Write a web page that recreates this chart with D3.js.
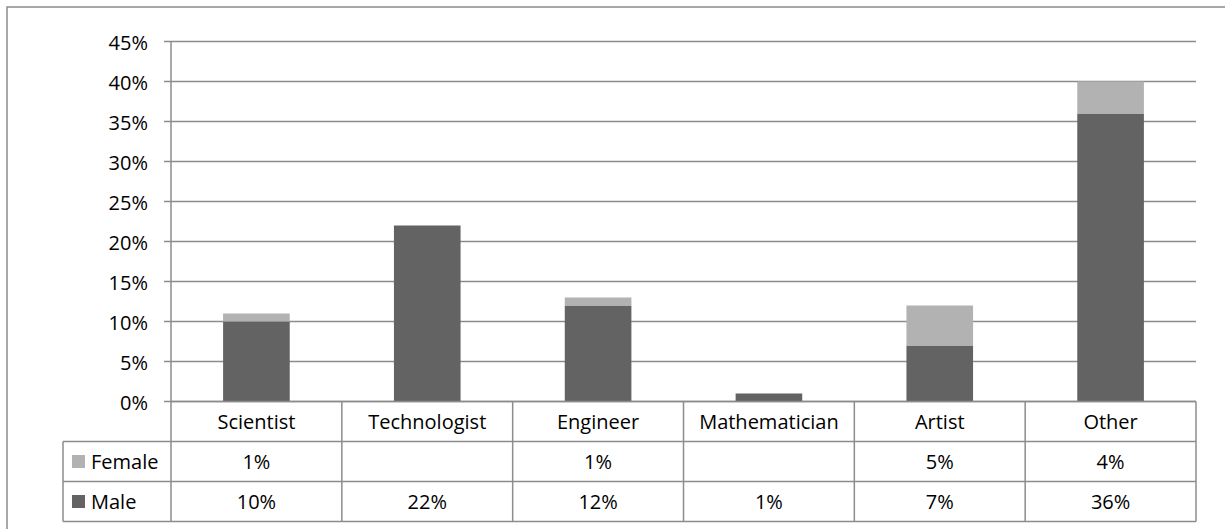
<!DOCTYPE html>
<html>
<head>
<meta charset="utf-8">
<script src="https://cdn.jsdelivr.net/npm/d3@7"></script>
<style>
  body { margin: 0; background: #fff; }
  text { font-family: "Open Sans", sans-serif; fill: #000; }
</style>
</head>
<body>
<div id="chart"></div>
<script>
// stacked share by occupation, with a data table underneath (Excel style)
const width = 1225, height = 529;

const categories = ["Scientist", "Technologist", "Engineer", "Mathematician", "Artist", "Other"];
const male   = [10, 22, 12, 1, 7, 36];
const female = [1, null, 1, null, 5, 4];
const yTicks = [0, 5, 10, 15, 20, 25, 30, 35, 40, 45];

const series = [
  { name: "Female", values: female, color: "#b2b2b2" },
  { name: "Male",   values: male,   color: "#636363" }
];

const line = "#8c8c8c";
const fs = "20px";
const plotL = 171, plotR = 1196, plotT = 41.5, plotB = 401.5;
const rowH = 40, tableLeft = 63;

const svg = d3.select("#chart").append("svg").attr("width", width).attr("height", height);

// outer frame (runs off the right/bottom edge of the picture)
svg.append("rect").attr("x", 7).attr("y", 7).attr("width", width + 10).attr("height", height + 10)
  .attr("fill", "none").attr("stroke", line).attr("stroke-width", 1.5);

const x = d3.scaleBand().domain(categories).range([plotL, plotR]).padding(0);
const y = d3.scaleLinear().domain([0, 45]).range([plotB, plotT]);

// gridlines + ticks
svg.append("g").selectAll("line").data(yTicks).join("line")
  .attr("x1", plotL - 7).attr("x2", plotR)
  .attr("y1", d => y(d)).attr("y2", d => y(d))
  .attr("stroke", line).attr("stroke-width", 1.5);

svg.append("g").selectAll("text").data(yTicks).join("text")
  .attr("x", 148).attr("y", d => y(d) + 1).attr("dy", "0.35em")
  .attr("text-anchor", "end").style("font-size", fs)
  .text(d => d + "%");

// axis line
svg.append("line").attr("x1", plotL).attr("x2", plotL).attr("y1", plotT).attr("y2", plotB + rowH * 3)
  .attr("stroke", line).attr("stroke-width", 1.5);

// stacked bars
const rows = categories.map((c, i) => ({ cat: c, Male: male[i], Female: female[i] || 0 }));
const stack = d3.stack().keys(["Male", "Female"])(rows);
const colorOf = { Male: "#636363", Female: "#b2b2b2" };
const barW = x.bandwidth() * 0.39;

svg.append("g").selectAll("g").data(stack).join("g")
  .attr("fill", d => colorOf[d.key])
  .selectAll("rect").data(d => d).join("rect")
  .attr("x", d => x(d.data.cat) + (x.bandwidth() - barW) / 2)
  .attr("width", barW)
  .attr("y", d => y(d[1]))
  .attr("height", d => y(d[0]) - y(d[1]));

// data table
const tbl = svg.append("g").attr("fill", "none").attr("stroke", line).attr("stroke-width", 1.5);
// horizontal lines
tbl.append("line").attr("x1", tableLeft).attr("x2", plotR).attr("y1", plotB + rowH).attr("y2", plotB + rowH);
tbl.append("line").attr("x1", tableLeft).attr("x2", plotR).attr("y1", plotB + rowH * 2).attr("y2", plotB + rowH * 2);
tbl.append("line").attr("x1", tableLeft).attr("x2", plotR).attr("y1", plotB + rowH * 3).attr("y2", plotB + rowH * 3);
tbl.append("line").attr("x1", plotL).attr("x2", plotR).attr("y1", plotB).attr("y2", plotB);
// vertical lines
tbl.append("line").attr("x1", tableLeft).attr("x2", tableLeft).attr("y1", plotB + rowH).attr("y2", plotB + rowH * 3);
tbl.selectAll(".v").data(categories).join("line")
  .attr("x1", d => x(d) + x.bandwidth()).attr("x2", d => x(d) + x.bandwidth())
  .attr("y1", plotB).attr("y2", plotB + rowH * 3);

// category labels
svg.append("g").selectAll("text").data(categories).join("text")
  .attr("x", d => x(d) + x.bandwidth() / 2).attr("y", plotB + rowH / 2).attr("dy", "0.35em")
  .attr("text-anchor", "middle").style("font-size", fs)
  .text(d => d);

// series rows
series.forEach((s, r) => {
  const cy = plotB + rowH * (r + 1) + rowH / 2;
  svg.append("rect").attr("x", 72).attr("y", cy - 6.5).attr("width", 13).attr("height", 13).attr("fill", s.color);
  svg.append("text").attr("x", 91).attr("y", cy).attr("dy", "0.35em").style("font-size", fs).text(s.name);
  svg.append("g").selectAll("text").data(categories).join("text")
    .attr("x", d => x(d) + x.bandwidth() / 2).attr("y", cy).attr("dy", "0.35em")
    .attr("text-anchor", "middle").style("font-size", fs)
    .text((d, i) => s.values[i] == null ? "" : s.values[i] + "%");
});
</script>
</body>
</html>
